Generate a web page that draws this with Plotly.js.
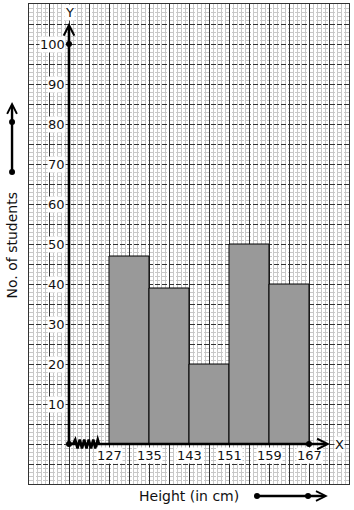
<!DOCTYPE html>
<html>
<head>
<meta charset="utf-8">
<script src="https://cdn.plot.ly/plotly-3.0.1.min.js"></script>
<style>html,body{margin:0;padding:0;background:#fff}#chart{width:354px;height:510px}</style>
</head>
<body>
<div id="chart"></div>
<script>
// ---- data ----
var classEdges = [127, 135, 143, 151, 159, 167];
var classLefts = [127, 135, 143, 151, 159];
var students = [47, 39, 20, 50, 40];
var xTickLabels = ["127", "135", "143", "151", "159", "167"];
var yTickVals = [10, 20, 30, 40, 50, 60, 70, 80, 90, 100];
var yTickLabels = ["10", "20", "30", "40", "50", "60", "70", "80", "90", "100"];
var xTitle = "Height (in cm)";
var yTitle = "No. of students";

var FONT = "DejaVu Sans, sans-serif";
var ORIGIN_X = 119;   // where the broken x-axis starts
var classWidth = 8;

// graph-paper minor grid positions (every small square), excluding major lines
var xMinor = [], yMinor = [];
for (var i = 0; i <= 80; i++) { if (i % 5 !== 0) xMinor.push(Math.round((111 + 0.8 * i) * 10) / 10); }
for (var j = -10; j <= 110; j++) { if (j % 5 !== 0) yMinor.push(j); }

var bar = {
  type: 'bar',
  x: classLefts,
  y: students,
  width: classWidth,
  offset: 0,
  marker: {color: '#999999', line: {color: '#000', width: 1}},
  hoverinfo: 'x+y'
};

var annotations = [];
yTickVals.forEach(function (v, i) {
  annotations.push({x: ORIGIN_X, y: v, xref: 'x', yref: 'y', text: yTickLabels[i],
    showarrow: false, xanchor: 'right', yanchor: 'middle', xshift: -3,
    bgcolor: '#fff', borderpad: 0, font: {family: FONT, size: 13, color: '#111'}});
});
classEdges.forEach(function (v, i) {
  annotations.push({x: v, y: 0, xref: 'x', yref: 'y', text: xTickLabels[i],
    showarrow: false, xanchor: 'center', yanchor: 'top', yshift: -3,
    bgcolor: '#fff', borderpad: 0, font: {family: FONT, size: 13, color: '#111'}});
});
annotations.push({x: ORIGIN_X, y: 105.3, ax: ORIGIN_X, ay: 0, xref: 'x', yref: 'y', axref: 'x', ayref: 'y',
  text: '', showarrow: true, arrowhead: 5, arrowsize: 0.8, arrowwidth: 2.6, arrowcolor: '#000'});
annotations.push({x: 171.2, y: 0, ax: ORIGIN_X, ay: 0, xref: 'x', yref: 'y', axref: 'x', ayref: 'y',
  text: '', showarrow: true, arrowhead: 5, arrowsize: 0.8, arrowwidth: 2.6, arrowcolor: '#000'});
annotations.push({x: ORIGIN_X, y: 108, xref: 'x', yref: 'y', text: 'Y', showarrow: false,
  xanchor: 'center', yanchor: 'middle',
  bgcolor: '#fff', borderpad: 0, font: {family: FONT, size: 13, color: '#111'}});
annotations.push({x: 173, y: 0, xref: 'x', yref: 'y', text: 'X', showarrow: false,
  xanchor: 'center', yanchor: 'middle',
  bgcolor: '#fff', borderpad: 0, font: {family: FONT, size: 13, color: '#111'}});
annotations.push({x: -0.053, y: 0.497, xref: 'paper', yref: 'paper', text: yTitle, textangle: -90,
  xanchor: 'center', yanchor: 'middle',
  showarrow: false, font: {family: FONT, size: 14, color: '#111'}});
annotations.push({x: 0.5, y: -0.025, xref: 'paper', yref: 'paper', text: xTitle,
  xanchor: 'center', yanchor: 'middle',
  showarrow: false, font: {family: FONT, size: 14, color: '#111'}});
annotations.push({x: -0.053, y: 0.796, xref: 'paper', yref: 'paper', ax: 0, ay: 70,
  text: '', showarrow: true, arrowhead: 5, arrowsize: 0.8, arrowwidth: 2.4, arrowcolor: '#000'});
annotations.push({x: 0.934, y: -0.025, xref: 'paper', yref: 'paper', ax: -71, ay: 0,
  text: '', showarrow: true, arrowhead: 5, arrowsize: 0.8, arrowwidth: 2.4, arrowcolor: '#000'});

function dot(xref, yref, x, y) {
  return {type: 'circle', xref: xref, yref: yref, xsizemode: 'pixel', ysizemode: 'pixel',
    xanchor: x, yanchor: y, x0: -3, x1: 3, y0: -3, y1: 3,
    fillcolor: '#000', line: {color: '#000', width: 0}, layer: 'above'};
}
var shapes = [];
shapes.push(dot('x', 'y', ORIGIN_X, 0));
shapes.push(dot('x', 'y', ORIGIN_X, 100));
shapes.push(dot('x', 'y', 167, 0));
shapes.push(dot('paper', 'paper', -0.053, 0.65));
shapes.push(dot('paper', 'paper', -0.053, 0.754));
shapes.push(dot('paper', 'paper', 0.7125, -0.025));
shapes.push(dot('paper', 'paper', 0.872, -0.025));

// zigzag break mark on x axis
var zz = 'M119.8,0';
var px = 119.8, up = true;
while (px < 124.6) {
  px += 0.45;
  zz += ' L' + px.toFixed(2) + ',' + (up ? 1.1 : -1.1);
  up = !up;
}
zz += ' L125,0';
shapes.push({type: 'path', xref: 'x', yref: 'y', path: zz, line: {color: '#000', width: 2.6}, layer: 'above'});

var layout = {
  width: 354, height: 510,
  margin: {l: 29, r: 5, t: 4, b: 26, pad: 0},
  paper_bgcolor: '#fff', plot_bgcolor: '#fff',
  showlegend: false,
  bargap: 0,
  xaxis: {
    range: [111, 175], tick0: 111, dtick: 4, showticklabels: false, ticks: '',
    showgrid: true, gridcolor: '#333', gridwidth: 1, zeroline: false,
    showline: true, mirror: true, linecolor: '#333', linewidth: 1,
    minor: {tickmode: 'array', tickvals: xMinor, showgrid: true, gridcolor: '#c8c8c8', gridwidth: 1, ticks: ''},
    fixedrange: true
  },
  yaxis: {
    range: [-10, 110], tick0: 0, dtick: 5, showticklabels: false, ticks: '',
    showgrid: true, gridcolor: '#333', gridwidth: 1, griddash: '5px,2px', zeroline: false,
    showline: true, mirror: true, linecolor: '#333', linewidth: 1,
    minor: {tickmode: 'array', tickvals: yMinor, showgrid: true, gridcolor: '#c8c8c8', gridwidth: 1, ticks: ''},
    fixedrange: true
  },
  annotations: annotations,
  shapes: shapes
};

Plotly.newPlot('chart', [bar], layout, {displayModeBar: false, staticPlot: true});
</script>
</body>
</html>
